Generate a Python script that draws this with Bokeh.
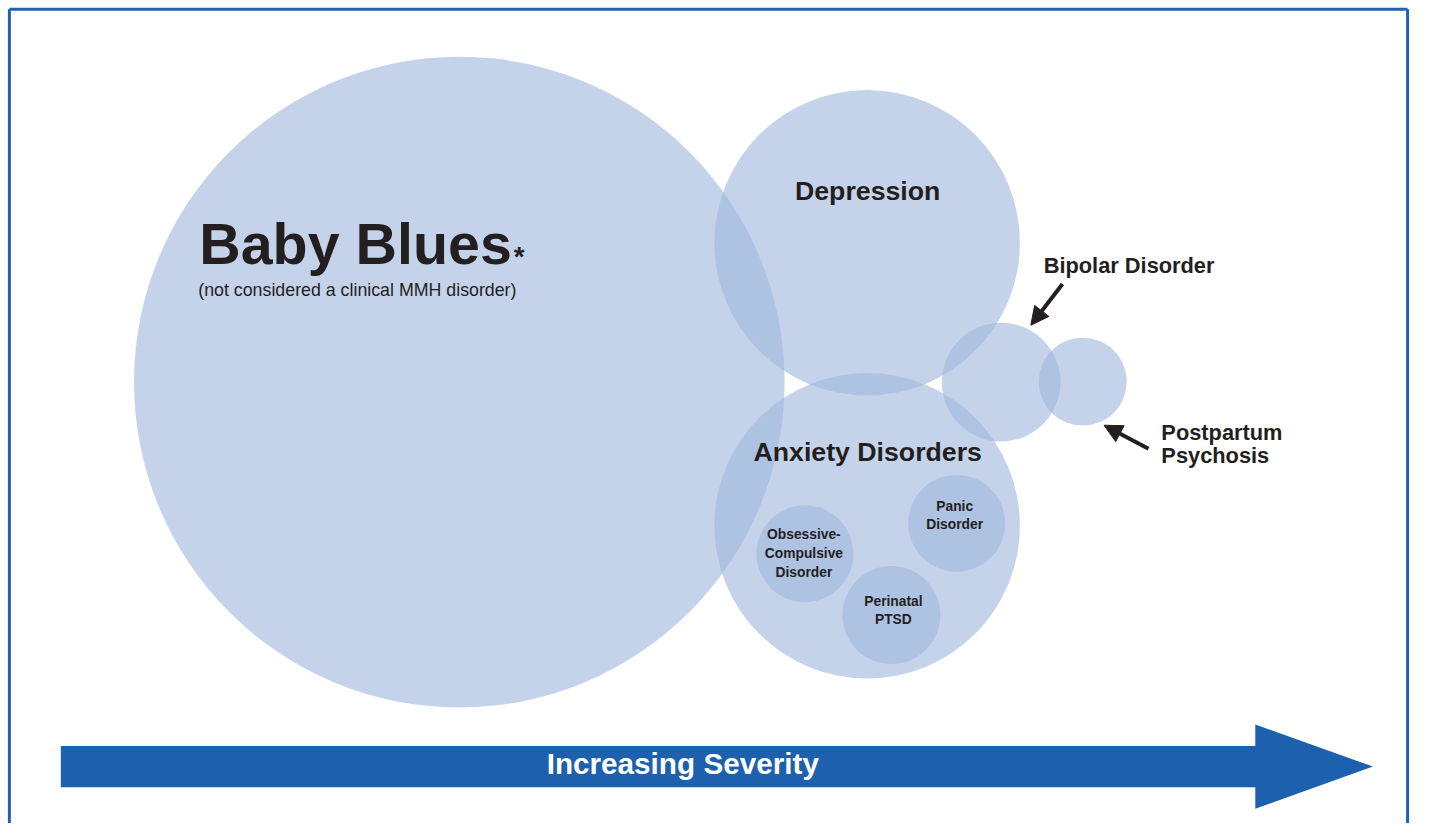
from bokeh.plotting import figure
from bokeh.models import Range1d, ColumnDataSource, Arrow, NormalHead
from bokeh.core.properties import value
from bokeh.embed import file_html
from bokeh.resources import INLINE

# ---- data: disorder circles (centre x, centre y, radius in reference pixels) ----
disorders = ["Baby Blues", "Depression", "Anxiety Disorders", "Bipolar Disorder",
             "Postpartum Psychosis", "Obsessive-Compulsive Disorder",
             "Panic Disorder", "Perinatal PTSD"]
circle_x = [464, 876.5, 876.5, 1012, 1094.5, 813.5, 967, 901]
circle_y = [389, 247, 535.5, 389, 388.5, 564, 533, 626.5]
circle_r = [329, 154.5, 154.5, 60, 44.5, 49, 49, 49.5]

axis_label = "Increasing Severity"
footnote = "(not considered a clinical MMH disorder)"

FONT = value("Liberation Sans")
INK = "#231F20"
BLUE = "#1D61AE"

REF_W, REF_H = 1429, 839
W, H = 1413, 823
S = W / REF_W  # font scale

p = figure(width=W, height=H, output_backend="svg", toolbar_location=None,
           x_range=Range1d(0, REF_W), y_range=Range1d(REF_H, 0),
           min_border=0, outline_line_color=None)
p.axis.visible = False
p.grid.visible = False
p.background_fill_color = "white"
p.border_fill_color = "white"

# frame (left, top, right)
p.multi_line(xs=[[9, 9], [9, 1423], [1423, 1423]],
             ys=[[839, 9], [9, 9], [9, 839]],
             line_color="#2062B0", line_width=3)

# circles
src = ColumnDataSource(dict(x=circle_x, y=circle_y, r=circle_r, name=disorders))
p.circle(x="x", y="y", radius="r", source=src,
         fill_color="#A0B7DC", fill_alpha=0.61, line_color=None)

# severity arrow
bx0, bx1, by0, by1 = 61, 1269, 760, 802
hy0, hy1, tipx, tipy = 738, 824, 1388, 781
p.patch(x=[bx0, bx1, bx1, tipx, bx1, bx1, bx0],
        y=[by0, by0, hy0, tipy, hy1, by1, by1],
        fill_color=BLUE, line_color=None)


def label(x, y, t, size, align="left", style="bold", color=INK):
    p.text(x=[x], y=[y], text=[t], text_font=FONT, text_font_style=style,
           text_font_size=f"{size * S:.1f}px", text_color=color,
           text_align=align, text_baseline="middle")


label(690, 778, axis_label, 30, align="center", color="white")

label(201, 248.5, "Baby Blues", 58)
label(519, 261, "*", 28)
label(200, 295.5, footnote, 18, style="normal")
label(877, 194, "Depression", 27, align="center")
label(877, 460, "Anxiety Disorders", 27, align="center")
label(1055, 270, "Bipolar Disorder", 22)
label(1174, 440.5, "Postpartum", 22)
label(1174, 463.5, "Psychosis", 22)

for t, yy in zip(["Obsessive-", "Compulsive", "Disorder"], [544, 564, 583]):
    label(812.5, yy, t, 14, align="center")
for t, yy in zip(["Panic", "Disorder"], [516, 534.5]):
    label(965, yy, t, 14, align="center")
for t, yy in zip(["Perinatal", "PTSD"], [612.5, 631]):
    label(903, yy, t, 14, align="center")

# pointer arrows
for (x0, y0, x1, y1) in [(1074, 289, 1042, 331), (1161, 457, 1116, 433)]:
    p.add_layout(Arrow(x_start=x0, y_start=y0, x_end=x1, y_end=y1,
                       line_color=INK, line_width=4,
                       end=NormalHead(size=18, fill_color=INK, line_color=INK,
                                      line_width=1)))

open("out.html", "w").write(file_html(p, INLINE))
